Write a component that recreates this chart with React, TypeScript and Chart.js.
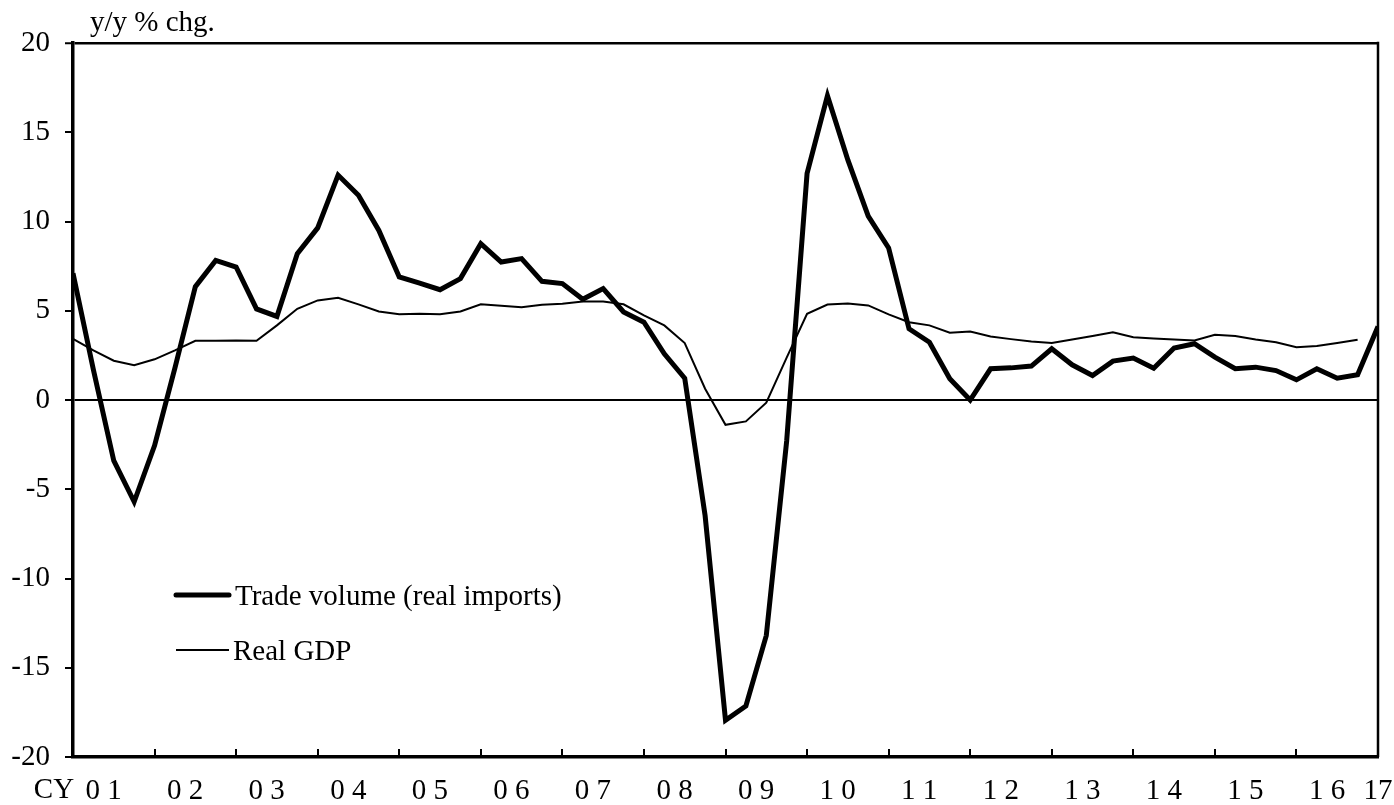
import React, { useEffect, useRef } from 'react';
import { Chart, registerables } from 'chart.js';

Chart.register(...registerables);

// Quarterly data, 2001Q1 .. 2017Q1 (y/y % chg.)
const tradeVolume: number[] = [
  7.1, 1.7, -3.4, -5.7,
  -2.55, 1.8, 6.35, 7.82,
  7.45, 5.1, 4.68, 8.2,
  9.64, 12.6, 11.47, 9.5,
  6.89, 6.55, 6.18, 6.8,
  8.76, 7.73, 7.92, 6.65,
  6.52, 5.64, 6.24, 4.93,
  4.36, 2.59, 1.22, -6.48,
  -17.94, -17.14, -13.2, -2.3,
  12.69, 17.05, 13.45, 10.3,
  8.52, 3.99, 3.24, 1.19,
  0.0, 1.75, 1.8, 1.9,
  2.87, 1.97, 1.37, 2.18,
  2.35, 1.78, 2.91, 3.15,
  2.4, 1.75, 1.84, 1.65,
  1.13, 1.75, 1.22, 1.41,
  4.12,
];

const realGDP: (number | null)[] = [
  3.43, 2.78, 2.2, 1.95,
  2.28, 2.78, 3.32, 3.32,
  3.34, 3.32, 4.18, 5.11,
  5.58, 5.73, 5.36, 4.96,
  4.8, 4.83, 4.8, 4.96,
  5.36, 5.28, 5.19, 5.34,
  5.39, 5.52, 5.52, 5.36,
  4.74, 4.18, 3.19, 0.63,
  -1.39, -1.2, -0.15, 2.37,
  4.83, 5.35, 5.41, 5.3,
  4.8, 4.36, 4.18, 3.77,
  3.84, 3.56, 3.41, 3.28,
  3.19, 3.39, 3.58, 3.79,
  3.52, 3.45, 3.39, 3.34,
  3.66, 3.58, 3.39, 3.24,
  2.96, 3.02, 3.19, 3.38,
  null,
];

const yearLabels: string[] = [
  '0 1', '0 2', '0 3', '0 4', '0 5', '0 6', '0 7', '0 8',
  '0 9', '1 0', '1 1', '1 2', '1 3', '1 4', '1 5', '1 6', '17',
];

const seriesNames: string[] = ['Trade volume (real imports)', 'Real GDP'];
const yUnit = 'y/y % chg.';
const xPrefix = 'CY';

const FONT = "'Liberation Serif', 'Times New Roman', Times, serif";
const FS = 29;

const overlayPlugin = {
  id: 'overlay',
  afterDraw(chart: any) {
    const { ctx, chartArea: ca, scales } = chart;
    const x = scales.x;
    ctx.save();
    ctx.strokeStyle = '#000';
    ctx.lineCap = 'butt';
    // right frame line
    ctx.lineWidth = 2.5;
    ctx.beginPath();
    ctx.moveTo(ca.right, ca.top - 1.25);
    ctx.lineTo(ca.right, ca.bottom);
    ctx.stroke();
    // inward year tick marks
    ctx.lineWidth = 2;
    ctx.beginPath();
    const lastQ = tradeVolume.length - 1;
    for (let v = 4; v < lastQ; v += 4) {
      const px = Math.round(x.getPixelForValue(v));
      ctx.moveTo(px, ca.bottom);
      ctx.lineTo(px, ca.bottom - 8);
    }
    ctx.stroke();

    // texts
    ctx.fillStyle = '#000';
    ctx.font = `${FS}px ${FONT}`;
    ctx.textBaseline = 'alphabetic';
    ctx.textAlign = 'left';
    ctx.fillText(yUnit, 90, 31);
    ctx.textAlign = 'center';
    ctx.fillText(xPrefix, 54, 798);

    // legend
    const items = chart.data.datasets;
    const rows = [595, 650];
    items.forEach((ds: any, i: number) => {
      const yy = rows[i];
      ctx.lineWidth = ds.borderWidth;
      ctx.lineCap = i === 0 ? 'round' : 'butt';
      ctx.beginPath();
      ctx.moveTo(176, yy);
      ctx.lineTo(229, yy);
      ctx.stroke();
      ctx.textAlign = 'left';
      ctx.fillText(ds.label, i === 0 ? 235 : 233, yy + 10);
    });
    ctx.restore();
  },
};

export default function App() {
  const canvasRef = useRef<HTMLCanvasElement | null>(null);

  useEffect(() => {
    if (!canvasRef.current) return;
    Chart.defaults.font.family = FONT;
    Chart.defaults.color = '#000';

    const chart = new Chart(canvasRef.current, {
      type: 'line',
      data: {
        datasets: [
          {
            label: seriesNames[0],
            data: tradeVolume.map((v, i) => ({ x: i, y: v })),
            borderColor: '#000',
            backgroundColor: '#000',
            borderWidth: 5,
            pointRadius: 0,
            tension: 0,
            borderJoinStyle: 'miter',
          },
          {
            label: seriesNames[1],
            data: realGDP
              .map((v, i) => ({ x: i, y: v }))
              .filter((p) => p.y !== null) as any,
            borderColor: '#000',
            backgroundColor: '#000',
            borderWidth: 2,
            pointRadius: 0,
            tension: 0,
            borderJoinStyle: 'miter',
          },
        ],
      },
      options: {
        responsive: false,
        animation: false,
        events: [],
        layout: { padding: { top: 43, right: 16, left: 0, bottom: 0 } },
        plugins: {
          legend: { display: false },
          tooltip: { enabled: false },
        },
        scales: {
          x: {
            type: 'linear',
            min: 0,
            max: tradeVolume.length - 1,
            afterBuildTicks: (scale: any) => {
              scale.ticks = yearLabels.map((_, k) => ({
                value: k === yearLabels.length - 1 ? 4 * k : 4 * k + 1.5,
              }));
            },
            afterFit: (scale: any) => {
              scale.height = 48;
              scale.paddingRight = 0;
              scale.paddingLeft = 0;
            },
            ticks: {
              autoSkip: false,
              maxRotation: 0,
              minRotation: 0,
              padding: 17,
              color: '#000',
              font: { size: FS, family: FONT },
              callback: (_v: any, index: number) => yearLabels[index],
            },
            grid: { display: false, drawTicks: false },
            border: { display: true, color: '#000', width: 3.5 },
          },
          y: {
            min: -20,
            max: 20,
            afterFit: (scale: any) => {
              scale.width = 73;
            },
            ticks: {
              stepSize: 5,
              padding: 15,
              color: '#000',
              font: { size: FS, family: FONT },
            },
            grid: {
              drawOnChartArea: true,
              drawTicks: true,
              tickLength: 8,
              tickColor: '#000',
              tickWidth: 2,
              color: (c: any) =>
                c.tick && (c.tick.value === 0 || c.tick.value === 20)
                  ? '#000'
                  : 'rgba(0,0,0,0)',
              lineWidth: (c: any) => (c.tick && c.tick.value === 20 ? 2.5 : 2),
            },
            border: { display: true, color: '#000', width: 3.5 },
          },
        },
      },
      plugins: [overlayPlugin],
    });
    return () => chart.destroy();
  }, []);

  return (
    <div style={{ position: 'fixed', left: 0, top: 0, width: 1394, height: 805, background: '#fff' }}>
      <canvas ref={canvasRef} width={1394} height={805} style={{ display: 'block' }} />
    </div>
  );
}
